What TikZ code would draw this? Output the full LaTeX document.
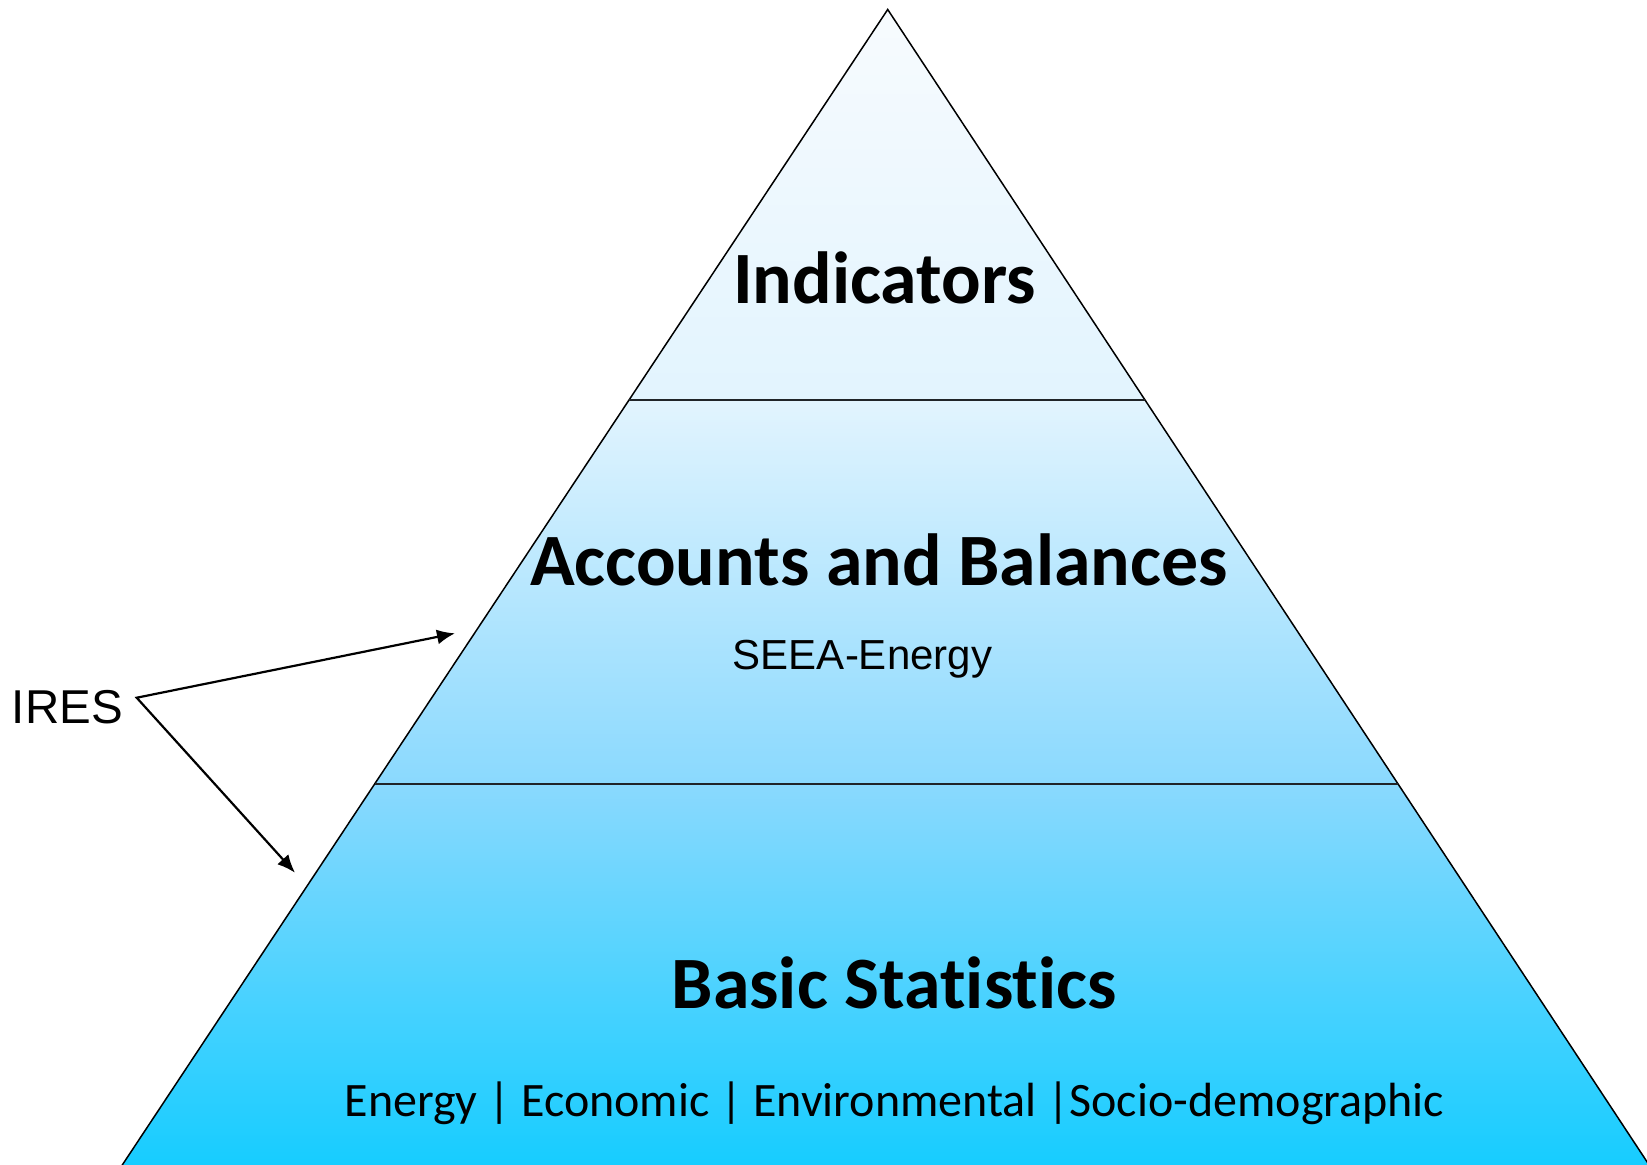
\documentclass[tikz,border=0pt]{standalone}
\usepackage{fontspec}
\setmainfont[Ligatures=NoCommon]{Carlito}
\newfontfamily\arialfont{Liberation Sans}
\usetikzlibrary{arrows.meta}
\definecolor{gA}{HTML}{F7FBFE}
\definecolor{gB}{HTML}{E2F4FE}
\definecolor{gC}{HTML}{8AD9FE}
\definecolor{gD}{HTML}{12CCFF}
\definecolor{sepline}{HTML}{202428}
\begin{document}
\begin{tikzpicture}[x=0.5pt,y=-0.5pt,
  title/.style={font=\fontsize{36.9}{40}\selectfont\bfseries, anchor=base, inner sep=0pt},
  sub/.style={font=\arialfont\fontsize{21}{24}\selectfont, anchor=base, inner sep=0pt},
  subc/.style={font=\fontsize{24}{28}\selectfont, anchor=base, inner sep=0pt},
  lbl/.style={font=\arialfont\fontsize{23.75}{28}\selectfont, anchor=base, inner sep=0pt},
  edge/.style={line width=0.75pt, line join=miter},
  sep/.style={line width=1pt, draw=sepline},
  pointer/.style={line width=1.1pt, line join=miter, {Latex[length=9pt,width=7.5pt]}-{Latex[length=9pt,width=7.5pt]}}]
\useasboundingbox (0,0) rectangle (1647,1164);
\clip (0,0) rectangle (1647,1164);
\fill[white] (0,0) rectangle (1647,1164);
% corner points
\coordinate (A) at (887.7,9.5);
\coordinate (L1) at (629,400.3);
\coordinate (R1) at (1145,400.3);
\coordinate (L2) at (375,783.6);
\coordinate (R2) at (1398,783.6);
\coordinate (L3) at (112.3,1180);
\coordinate (R3) at (1659,1180);
% bands
\fill[top color=gA,bottom color=gB] (A) -- (R1) -- (L1) -- cycle;
\fill[top color=gB,bottom color=gC] (L1) -- (R1) -- (R2) -- (L2) -- cycle;
\fill[top color=gC,bottom color=gD] (L2) -- (R2) -- (R3) -- (L3) -- cycle;
% outline and separators
\draw[edge] (L3) -- (A) -- (R3);
\draw[sep] (L1) -- (R1);
\draw[sep] (L2) -- (R2);
% texts
\node[title] (ind) at (884.5,303) {Indicators};
\node[title] (acc) at (879,585) {Accounts and Balances};
\node[sub] (seea) at (862.5,669) {SEEA-Energy};
\node[title] (bas) at (894,1008) {Basic Statistics};
\node[subc] (cats) at (894.5,1116.6) {Energy | Economic | Environmental |Socio-demographic};
\node[lbl] (ires) at (67.3,723) {IRES};
% pointers
\coordinate (iresj) at (136.7,697.7);
\coordinate (tipU) at (455,633.3);
\coordinate (tipD) at (295,872.7);
\draw[pointer] (tipU) -- (iresj) -- (tipD);
\end{tikzpicture}
\end{document}
